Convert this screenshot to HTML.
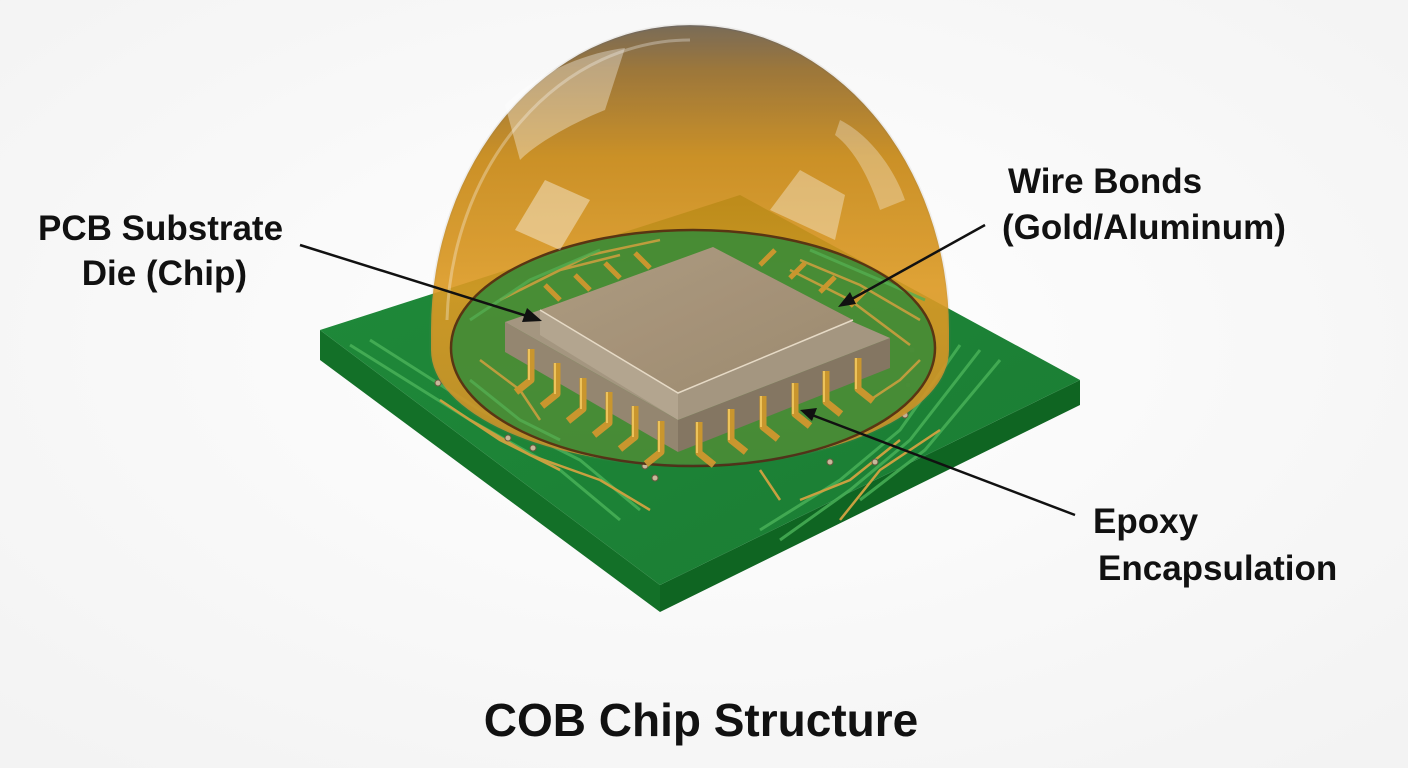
<!DOCTYPE html>
<html><head><meta charset="utf-8"><style>
html,body{margin:0;padding:0;background:#fff;}
svg{display:block}
text{font-family:"Liberation Sans",Arial,sans-serif;font-weight:bold;fill:#111}
</style></head><body>
<svg width="1408" height="768" viewBox="0 0 1408 768" xmlns="http://www.w3.org/2000/svg">
<defs>
<radialGradient id="bg" cx="50%" cy="45%" r="70%"><stop offset="0" stop-color="#ffffff"/><stop offset="1" stop-color="#f3f3f3"/></radialGradient>
<linearGradient id="dome" x1="0" y1="0" x2="0" y2="1">
<stop offset="0" stop-color="#5f564c"/><stop offset="0.1" stop-color="#8a6428"/><stop offset="0.3" stop-color="#c4840f"/><stop offset="0.6" stop-color="#dd9a22"/><stop offset="1" stop-color="#c7902a"/></linearGradient>
<linearGradient id="top" x1="0" y1="0" x2="1" y2="1"><stop offset="0" stop-color="#a99c8a"/><stop offset="1" stop-color="#958878"/></linearGradient>
<linearGradient id="pcb" x1="0" y1="0" x2="1" y2="1"><stop offset="0" stop-color="#1f8a3a"/><stop offset="1" stop-color="#1a7c33"/></linearGradient>
</defs>
<rect width="1408" height="768" fill="url(#bg)"/>
<polygon points="320,330 660,585 660,612 320,360" fill="#137028"/>
<polygon points="660,585 1080,380 1080,405 660,612" fill="#0f6522"/>
<polygon points="320,330 740,195 1080,380 660,585" fill="url(#pcb)"/>
<g stroke="#4bb45a" stroke-width="3" fill="none" opacity="0.8">
<path d="M350,345 L470,420 L560,470 L620,520"/>
<path d="M370,340 L480,410 L580,460 L640,510"/>
<path d="M960,345 L900,430 L840,480 L760,530"/>
<path d="M980,350 L910,440 L850,490 L780,540"/>
<path d="M1000,360 L925,450 L860,500"/>
</g>
<g stroke="#c9a040" stroke-width="2.5" fill="none">
<path d="M440,400 L500,440 L560,470"/>
<path d="M470,420 L530,455 L600,480"/>
<path d="M900,440 L850,480 L800,500"/>
<path d="M940,430 L880,470 L840,520"/>
<path d="M600,480 L650,510"/>
<path d="M760,470 L780,500"/>
</g>
<g fill="#c8b89a" stroke="#6a5a40" stroke-width="1">
<circle cx="438" cy="383" r="3"/><circle cx="508" cy="438" r="3"/><circle cx="533" cy="448" r="3"/><circle cx="645" cy="466" r="3"/><circle cx="655" cy="478" r="3"/><circle cx="710" cy="452" r="3"/><circle cx="830" cy="462" r="3"/><circle cx="875" cy="462" r="3"/><circle cx="908" cy="385" r="3"/><circle cx="912" cy="350" r="3"/><circle cx="905" cy="415" r="3"/>
</g>
<path d="M431,330 A259,305 0 0 1 949,330 L949,350 A258,115 0 0 1 431,350 Z" fill="url(#dome)" opacity="0.9"/>
<ellipse cx="693" cy="348" rx="242" ry="118" fill="#1f8a3a" opacity="0.85"/>
<g stroke="#c9a040" stroke-width="2.5" fill="none" opacity="0.9">
<path d="M500,300 L560,270 L620,255"/><path d="M520,290 L590,255 L660,240"/>
<path d="M800,260 L860,285 L920,320"/><path d="M790,270 L850,300 L910,345"/>
<path d="M480,360 L520,390 L540,420"/><path d="M870,400 L900,380 L920,360"/>
</g>
<g stroke="#45b055" stroke-width="3" fill="none" opacity="0.8">
<path d="M470,320 L530,280 L600,250"/><path d="M810,250 L880,280 L925,300"/><path d="M470,380 L520,420 L560,440"/>
</g>
<ellipse cx="693" cy="348" rx="242" ry="118" fill="none" stroke="#4a2a10" stroke-width="2.5"/>
<polygon points="505,322 678,420 678,452 505,352" fill="#8c8478"/>
<polygon points="678,420 890,338 890,368 678,452" fill="#7a7268"/>
<polygon points="505,322 700,255 890,338 678,420" fill="#9e968a"/>
<polygon points="540,310 713,247 853,320 678,393" fill="url(#top)"/>
<polygon points="540,310 678,393 678,420 540,335" fill="#bab2a6" opacity="0.6"/>
<polyline points="540,310 678,393 853,320" fill="none" stroke="#e8e2d8" stroke-width="1.5"/>
<g stroke="#c8962e" stroke-width="7" fill="none" stroke-linejoin="round">
<polyline points="531,349 531,380 516,392"/><polyline points="557,363 557,394 542,406"/><polyline points="583,378 583,409 568,421"/><polyline points="609,392 609,423 594,435"/><polyline points="635,406 635,437 620,449"/><polyline points="661,421 661,452 646,464"/>
<polyline points="699,422 699,453 714,465"/><polyline points="731,409 731,440 746,452"/><polyline points="763,396 763,427 778,439"/><polyline points="795,383 795,414 810,426"/><polyline points="826,371 826,402 841,414"/><polyline points="858,358 858,389 873,401"/>
</g>
<g stroke="#f0c860" stroke-width="2" fill="none">
<polyline points="529,349 529,380"/><polyline points="555,363 555,394"/><polyline points="581,378 581,409"/><polyline points="607,392 607,423"/><polyline points="633,406 633,437"/><polyline points="659,421 659,452"/>
<polyline points="697,422 697,453"/><polyline points="729,409 729,440"/><polyline points="761,396 761,427"/><polyline points="793,383 793,414"/><polyline points="824,371 824,402"/><polyline points="856,358 856,389"/>
</g>
<g stroke="#c8962e" stroke-width="5">
<line x1="560" y1="300" x2="545" y2="285"/><line x1="590" y1="290" x2="575" y2="275"/><line x1="620" y1="278" x2="605" y2="263"/><line x1="650" y1="268" x2="635" y2="253"/>
<line x1="760" y1="265" x2="775" y2="250"/><line x1="790" y1="278" x2="805" y2="263"/><line x1="820" y1="292" x2="835" y2="277"/><line x1="850" y1="306" x2="865" y2="291"/>
</g>
<path d="M431,330 A259,305 0 0 1 949,330 L949,350 A258,115 0 0 1 431,350 Z" fill="#d99a30" opacity="0.1" stroke="#8a8070" stroke-width="3"/>
<path d="M447,320 A243,290 0 0 1 690,40" fill="none" stroke="#ffffff" stroke-width="3" opacity="0.3"/>
<path d="M505,105 C540,70 590,52 625,48 L605,110 C580,120 540,140 520,160 Z" fill="#fff" opacity="0.35"/>
<path d="M515,230 L545,180 L590,200 L560,250 Z" fill="#fff" opacity="0.4"/>
<path d="M770,210 L800,170 L845,195 L835,240 Z" fill="#fff" opacity="0.35"/>
<path d="M840,120 C870,135 895,170 905,200 L880,210 C870,180 855,150 835,135 Z" fill="#fff" opacity="0.3"/>
<g stroke="#111" stroke-width="2.5" fill="#111">
<line x1="300" y1="245" x2="530" y2="317"/><polygon points="542,321 522,322 527,308" stroke="none"/>
<line x1="985" y1="225" x2="850" y2="300"/><polygon points="838,307 850,292 856,304" stroke="none"/>
<line x1="1075" y1="515" x2="812" y2="415"/><polygon points="800,410 817,408 812,421" stroke="none"/>
</g>
<text x="38" y="240" font-size="35">PCB Substrate</text>
<text x="247" y="285" font-size="35" text-anchor="end">Die (Chip)</text>
<text x="1008" y="193" font-size="35">Wire Bonds</text>
<text x="1002" y="239" font-size="35">(Gold/Aluminum)</text>
<text x="1093" y="533" font-size="35">Epoxy</text>
<text x="1098" y="580" font-size="35">Encapsulation</text>
<text x="701" y="736" font-size="46" text-anchor="middle">COB Chip Structure</text>
</svg>
</body></html>
